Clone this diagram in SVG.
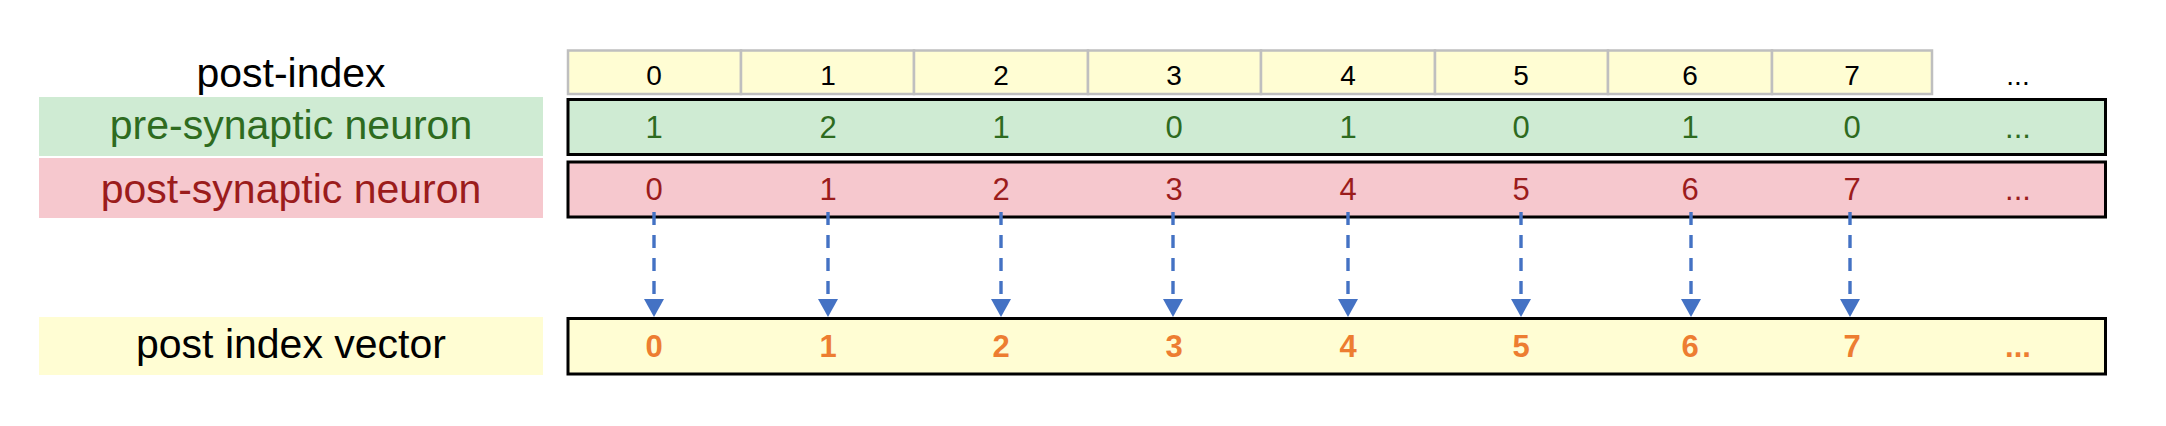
<svg xmlns="http://www.w3.org/2000/svg" width="2166" height="426" viewBox="0 0 2166 426">
<style>
.lbl{font-family:"Liberation Sans",Arial,sans-serif;font-size:41px;text-anchor:middle}
.d{font-family:"Liberation Sans",Arial,sans-serif;font-size:31px;text-anchor:middle}
.t{font-size:28px}
.b{font-weight:bold;fill:#ED7D31}
.k{fill:#000}
.g{fill:#2E6B1F}
.r{fill:#9B1C1C}
.cell{fill:#FFFDD3;stroke:#BFBFBF;stroke-width:2.5}
.row{stroke:#000;stroke-width:3}
.arr{stroke:#4472C4;stroke-width:3.4;stroke-dasharray:13 10;fill:none}
</style>
<defs>
<marker id="ah" markerUnits="userSpaceOnUse" markerWidth="18" markerHeight="20" refX="0" refY="10" orient="auto" viewBox="0 0 18 20">
<path d="M0,0 L18,10 L0,20 z" fill="#4472C4"/>
</marker>
</defs>
<rect width="2166" height="426" fill="#fff"/>

<g id="label-post-index">
<text class="lbl k" x="291" y="87">post-index</text>
</g>
<g id="label-pre">
<rect x="39" y="97" width="504" height="59" fill="#CFEBD3"/>
<text class="lbl g" x="291" y="139">pre-synaptic neuron</text>
</g>
<g id="label-post">
<rect x="39" y="158" width="504" height="60" fill="#F6C8CE"/>
<text class="lbl r" x="291" y="203">post-synaptic neuron</text>
</g>
<g id="label-vector">
<rect x="39" y="317" width="504" height="58" fill="#FFFDD3"/>
<text class="lbl k" x="291" y="358">post index vector</text>
</g>

<g id="row-post-index">
<rect class="cell" x="568" y="50.5" width="173" height="43.5"/>
<rect class="cell" x="741" y="50.5" width="173" height="43.5"/>
<rect class="cell" x="914" y="50.5" width="174" height="43.5"/>
<rect class="cell" x="1088" y="50.5" width="173" height="43.5"/>
<rect class="cell" x="1261" y="50.5" width="174" height="43.5"/>
<rect class="cell" x="1435" y="50.5" width="173" height="43.5"/>
<rect class="cell" x="1608" y="50.5" width="164" height="43.5"/>
<rect class="cell" x="1772" y="50.5" width="160" height="43.5"/>
<text class="d t k" x="654" y="85">0</text>
<text class="d t k" x="828" y="85">1</text>
<text class="d t k" x="1001" y="85">2</text>
<text class="d t k" x="1174" y="85">3</text>
<text class="d t k" x="1348" y="85">4</text>
<text class="d t k" x="1521" y="85">5</text>
<text class="d t k" x="1690" y="85">6</text>
<text class="d t k" x="1852" y="85">7</text>
<text class="d t k" x="2018" y="85">...</text>
</g>

<g id="row-pre">
<rect class="row" x="568" y="99.5" width="1537.5" height="55" fill="#CFEBD3"/>
<text class="d g" x="654" y="138">1</text>
<text class="d g" x="828" y="138">2</text>
<text class="d g" x="1001" y="138">1</text>
<text class="d g" x="1174" y="138">0</text>
<text class="d g" x="1348" y="138">1</text>
<text class="d g" x="1521" y="138">0</text>
<text class="d g" x="1690" y="138">1</text>
<text class="d g" x="1852" y="138">0</text>
<text class="d g" x="2018" y="138">...</text>
</g>

<g id="row-post">
<rect class="row" x="568" y="162" width="1537.5" height="55" fill="#F6C8CE"/>
<text class="d r" x="654" y="200">0</text>
<text class="d r" x="828" y="200">1</text>
<text class="d r" x="1001" y="200">2</text>
<text class="d r" x="1174" y="200">3</text>
<text class="d r" x="1348" y="200">4</text>
<text class="d r" x="1521" y="200">5</text>
<text class="d r" x="1690" y="200">6</text>
<text class="d r" x="1852" y="200">7</text>
<text class="d r" x="2018" y="200">...</text>
</g>

<g id="row-vector">
<rect class="row" x="568" y="318.5" width="1537.5" height="55.5" fill="#FFFDD3"/>
<text class="d b" x="654" y="357">0</text>
<text class="d b" x="828" y="357">1</text>
<text class="d b" x="1001" y="357">2</text>
<text class="d b" x="1174" y="357">3</text>
<text class="d b" x="1348" y="357">4</text>
<text class="d b" x="1521" y="357">5</text>
<text class="d b" x="1690" y="357">6</text>
<text class="d b" x="1852" y="357">7</text>
<text class="d b" x="2018" y="357">...</text>
</g>

<g id="connectors">
<line class="arr" x1="654" y1="212" x2="654" y2="299" marker-end="url(#ah)"/>
<line class="arr" x1="828" y1="212" x2="828" y2="299" marker-end="url(#ah)"/>
<line class="arr" x1="1001" y1="212" x2="1001" y2="299" marker-end="url(#ah)"/>
<line class="arr" x1="1173" y1="212" x2="1173" y2="299" marker-end="url(#ah)"/>
<line class="arr" x1="1348" y1="212" x2="1348" y2="299" marker-end="url(#ah)"/>
<line class="arr" x1="1521" y1="212" x2="1521" y2="299" marker-end="url(#ah)"/>
<line class="arr" x1="1691" y1="212" x2="1691" y2="299" marker-end="url(#ah)"/>
<line class="arr" x1="1850" y1="212" x2="1850" y2="299" marker-end="url(#ah)"/>
</g>
</svg>
